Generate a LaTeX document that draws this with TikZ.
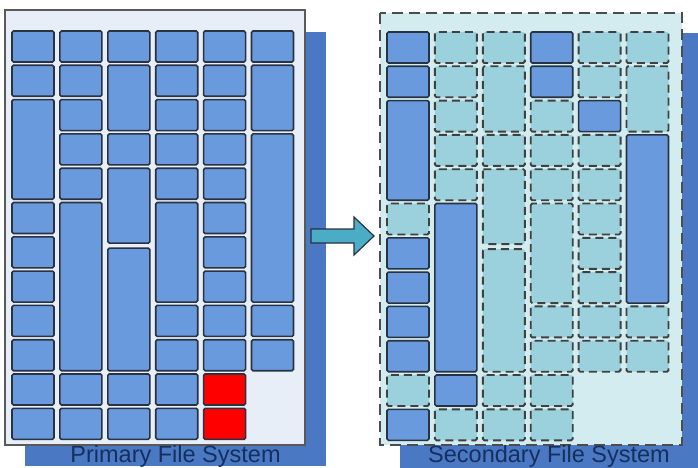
\documentclass[tikz,border=0pt]{standalone}
\usepackage{fontspec}
\setmainfont{Liberation Sans}

\definecolor{bloque}{HTML}{6A9ADE}
\definecolor{borde}{HTML}{283240}
\definecolor{fondoP}{HTML}{E8EEF7}
\definecolor{fondoS}{HTML}{D3ECF0}
\definecolor{libre}{HTML}{9BD1DC}
\definecolor{sombra}{HTML}{4A78C2}
\definecolor{flecha}{HTML}{4BACC6}
\definecolor{texto}{HTML}{15305E}

\tikzset{
  usado/.style={fill=bloque, draw=borde, line width=1.6pt, rounded corners=1.5pt},
  malo/.style={fill=red, draw=borde, line width=1.6pt, rounded corners=1.5pt},
  vacio/.style={fill=libre, draw=gray!50!black, line width=1.9pt, dash pattern=on 8pt off 5pt, rounded corners=1.5pt},
  etiqueta/.style={anchor=base, text=texto, font=\fontsize{23.5}{28}\selectfont, inner sep=0pt}
}

\begin{document}
\begin{tikzpicture}[x=1pt, y=-1pt]
    \useasboundingbox (0,0) rectangle (698,468);

    % Sistema primario (sombra y marco)
    \fill[sombra] (25,32) rectangle (326,466);
    \filldraw[fill=fondoP, draw=gray!70!black, line width=1.2pt] (5,10) rectangle (305,445);

    % Bloques ocupados: columna / fila inicial / fila final
    \foreach \c/\a/\b in {1/1/1, 1/2/2, 1/3/5, 1/6/6, 1/7/7, 1/8/8, 1/9/9, 1/10/10, 1/11/11, 1/12/12,
                          2/1/1, 2/2/2, 2/3/3, 2/4/4, 2/5/5, 2/6/10, 2/11/11, 2/12/12,
                          3/1/1, 3/2/3, 3/4/4, 3/5/6.28, 3/7.33/10, 3/11/11, 3/12/12,
                          4/1/1, 4/2/2, 4/3/3, 4/4/4, 4/5/5, 4/6/8, 4/9/9, 4/10/10, 4/11/11, 4/12/12,
                          5/1/1, 5/2/2, 5/3/3, 5/4/4, 5/5/5, 5/6/6, 5/7/7, 5/8/8, 5/9/9, 5/10/10,
                          6/1/1, 6/2/3, 6/4/8, 6/9/9, 6/10/10}
        \draw[usado] ({12+47.9*(\c-1)},{31+34.3*(\a-1)}) rectangle ++(42,{34.3*(\b-\a)+31});

    % Bloques defectuosos
    \foreach \c/\a/\b in {5/11/11, 5/12/12}
        \draw[malo] ({12+47.9*(\c-1)},{31+34.3*(\a-1)}) rectangle ++(42,{34.3*(\b-\a)+31});

    \node[etiqueta] (primario) at (175.5,462) {Primary File System};

    % Sistema secundario (sombra y marco discontinuo)
    \fill[sombra] (400,33) rectangle (698,468);
    \filldraw[fill=fondoS, draw=gray!60!black, line width=1.9pt, dash pattern=on 11pt off 6pt] (380,13) rectangle (682,445);

    \begin{scope}[shift={(375,1)}]
        % Bloques copiados
        \foreach \c/\a/\b in {1/1/1, 1/2/2, 1/3/5, 1/7/7, 1/8/8, 1/9/9, 1/10/10, 1/12/12,
                              2/6/10, 2/11/11, 4/1/1, 4/2/2, 5/3/3, 6/4/8}
            \draw[usado] ({12+47.9*(\c-1)},{31+34.3*(\a-1)}) rectangle ++(42,{34.3*(\b-\a)+31});

        % Bloques libres
        \foreach \c/\a/\b in {1/6/6, 1/11/11,
                              2/1/1, 2/2/2, 2/3/3, 2/4/4, 2/5/5, 2/12/12,
                              3/1/1, 3/2/3, 3/4/4, 3/5/6.28, 3/7.33/10, 3/11/11, 3/12/12,
                              4/3/3, 4/4/4, 4/5/5, 4/6/8, 4/9/9, 4/10/10, 4/11/11, 4/12/12,
                              5/1/1, 5/2/2, 5/4/4, 5/5/5, 5/6/6, 5/7/7, 5/8/8, 5/9/9, 5/10/10,
                              6/1/1, 6/2/3, 6/9/9, 6/10/10}
            \draw[vacio] ({12+47.9*(\c-1)},{31+34.3*(\a-1)}) rectangle ++(42,{34.3*(\b-\a)+31});
    \end{scope}

    \node[etiqueta] (secundario) at (549,462) {Secondary File System};

    % Flecha de copia
    \filldraw[fill=flecha, draw=borde, line width=1.2pt, line join=miter]
        (311,229) -- (354,229) -- (354,217) -- (374,236) -- (354,255) -- (354,243) -- (311,243) -- cycle;
\end{tikzpicture}
\end{document}
